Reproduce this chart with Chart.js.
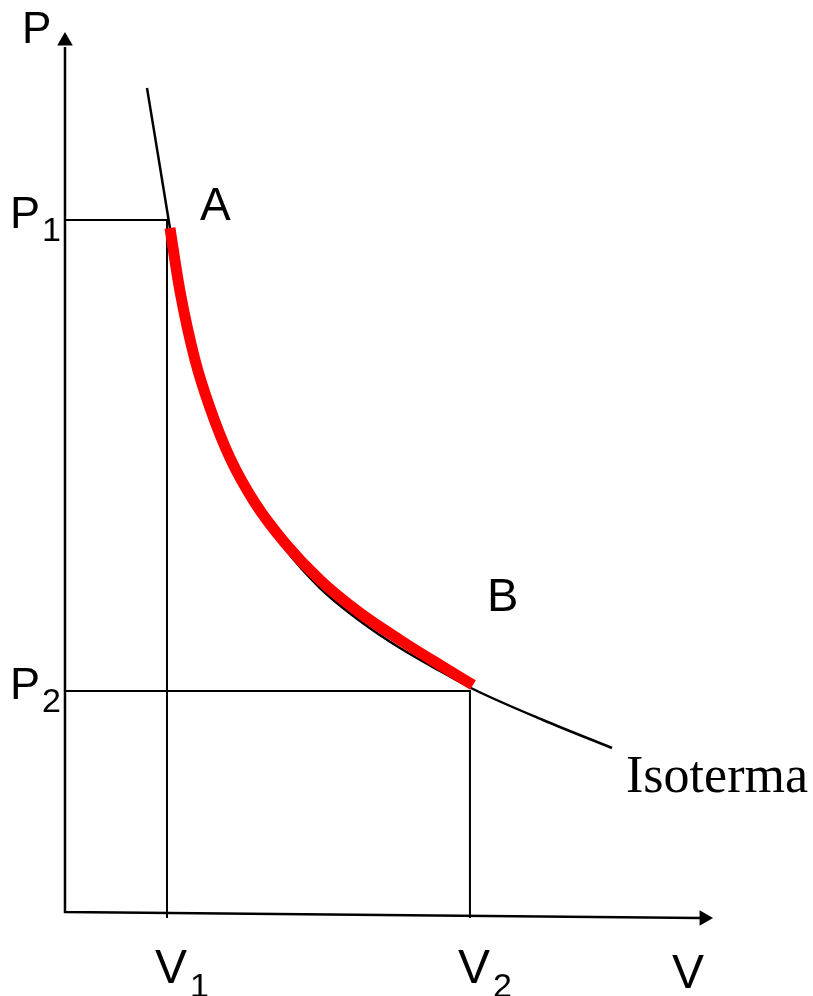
<!DOCTYPE html>
<html><head><meta charset="utf-8">
<script src="https://cdn.jsdelivr.net/npm/chart.js@4/dist/chart.umd.min.js"></script>
<style>html,body{margin:0;padding:0;background:#fff;overflow:hidden}</style>
</head><body>
<canvas id="c" width="813" height="996"></canvas>
<script>
// ---- data (arbitrary units) ----
const xTickValues = [1.0, 3.97];           // V1, V2
const xTickNames  = ['V', 'V'];
const xTickSubs   = ['1', '2'];
const yTickValues = [6.92, 2.21];          // P1, P2
const yTickNames  = ['P', 'P'];
const yTickSubs   = ['1', '2'];
const axisTitleX = 'V';
const axisTitleY = 'P';
const pointNames = ['A', 'B'];
const curveName = 'Isoterma';

// isotherm (black thin curve)
const isoV = [0.804, 1.029, 1.127, 1.275, 1.422, 1.618, 1.863, 2.157, 2.500, 2.892, 3.284, 3.676, 4.0, 4.686, 5.363];
const isoP = [8.24, 6.84, 6.20, 5.51, 5.03, 4.52, 4.06, 3.63, 3.24, 2.91, 2.64, 2.41, 2.23, 1.92, 1.64];
// process A -> B (red thick curve)
const procV = [1.029, 1.127, 1.275, 1.422, 1.618, 1.863, 2.157, 2.500, 2.892, 3.284, 3.676, 4.0];
const procP = [6.84, 6.21, 5.52, 5.04, 4.54, 4.09, 3.69, 3.32, 2.99, 2.72, 2.47, 2.27];
// axes extents
const axisTopP = 8.65, axisArrowTopP = 8.71;
const axisRightV = 6.225, axisArrowRightV = 6.265, axisRightP = -0.06;

const pts = (xs, ys) => xs.map((v, i) => ({x: v, y: ys[i]}));
const [V1, V2] = xTickValues;
const [P1, P2] = yTickValues;

const labelPlugin = {
  id: 'labels',
  afterDatasetsDraw(chart) {
    const ctx = chart.ctx, x = chart.scales.x, y = chart.scales.y;
    const sans = '"Liberation Sans", Arial, sans-serif';
    const serif = '"Liberation Serif", "Times New Roman", serif';
    ctx.save();
    ctx.fillStyle = '#000';
    ctx.textBaseline = 'alphabetic';
    ctx.textAlign = 'left';
    const t = (s, px, py, size, fam) => { ctx.font = size + 'px ' + (fam || sans); ctx.fillText(s, px, py); };
    const x0 = x.getPixelForValue(0), y0 = y.getPixelForValue(0);
    // axis titles
    t(axisTitleY, x0 - 43, y.getPixelForValue(axisArrowTopP) + 2, 44);
    t(axisTitleX, x.getPixelForValue(axisArrowRightV) - 32, y0 + 76, 48);
    // y ticks
    yTickValues.forEach((v, i) => {
      const py = y.getPixelForValue(v);
      t(yTickNames[i], x0 - 55, py + 8, 45);
      t(yTickSubs[i], x0 - 23, py + 21, 34);
    });
    // x ticks
    xTickValues.forEach((v, i) => {
      const px = x.getPixelForValue(v);
      t(xTickNames[i], px - 12, y0 + 71, 48);
      t(xTickSubs[i], px + 23, y0 + 85, 34);
    });
    // points
    t(pointNames[0], x.getPixelForValue(V1) + 33, y.getPixelForValue(P1), 46);
    t(pointNames[1], x.getPixelForValue(V2) + 17, y.getPixelForValue(P2) - 80, 47);
    // curve name
    t(curveName, x.getPixelForValue(isoV[isoV.length - 1]) + 14, y.getPixelForValue(isoP[isoP.length - 1]) + 44, 52, serif);
    ctx.restore();
  }
};

new Chart(document.getElementById('c'), {
  type: 'scatter',
  data: {
    datasets: [
      { label: 'A-B', data: pts(procV, procP), showLine: true, borderColor: '#ff0000', borderWidth: 11,
        pointRadius: 0, cubicInterpolationMode: 'monotone', borderCapStyle: 'butt', order: 0 },
      { label: 'isoterma', data: pts(isoV, isoP), showLine: true, borderColor: '#000', borderWidth: 2.5,
        pointRadius: 0, cubicInterpolationMode: 'monotone', order: 1 },
      { label: 'P1 guide', data: [{x: 0, y: P1}, {x: V1, y: P1}, {x: V1, y: axisRightP}], showLine: true,
        borderColor: '#000', borderWidth: 2, pointRadius: 0, tension: 0, order: 2 },
      { label: 'P2 guide', data: [{x: 0, y: P2}, {x: V2, y: P2}, {x: V2, y: axisRightP}], showLine: true,
        borderColor: '#000', borderWidth: 2, pointRadius: 0, tension: 0, order: 2 },
      { label: 'axes', data: [{x: 0, y: axisTopP}, {x: 0, y: 0}, {x: axisRightV, y: axisRightP}], showLine: true,
        borderColor: '#000', borderWidth: 2.5, pointRadius: 0, tension: 0, borderJoinStyle: 'miter', order: 2 },
      { label: 'arrows', data: [{x: 0, y: axisArrowTopP}, {x: axisArrowRightV, y: axisRightP}], showLine: false,
        pointStyle: 'triangle', pointRadius: 9, pointRotation: [0, 90], backgroundColor: '#000',
        borderColor: '#000', borderWidth: 0, order: 2 }
    ]
  },
  options: {
    responsive: false,
    devicePixelRatio: 1,
    animation: false,
    layout: { padding: 0, autoPadding: false },
    plugins: { legend: { display: false }, tooltip: { enabled: false } },
    scales: {
      x: { type: 'linear', display: false, min: -0.637, max: 7.333 },
      y: { type: 'linear', display: false, min: -0.84, max: 9.12 }
    }
  },
  plugins: [labelPlugin]
});
</script>
</body></html>
